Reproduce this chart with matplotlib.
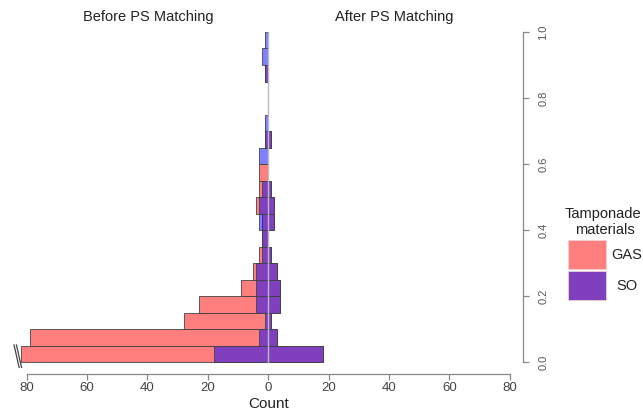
import numpy as np
import matplotlib
matplotlib.use("Agg")
import matplotlib.pyplot as plt
from matplotlib.patches import Rectangle

plt.rcParams['font.family'] = ['Liberation Sans', 'DejaVu Sans']

# -------------------------------
# Data: propensity score histogram counts, bins of 0.05 from 0 to 1
# -------------------------------
bin_edges = np.round(np.arange(0, 1.0001, 0.05), 2)
# before matching (first GAS bin is truncated on the axis, drawn length ~82)
gas_before = np.array([82, 79, 28, 23, 9, 5, 3, 2, 2, 4, 3, 3, 0, 1, 0, 0, 0, 1, 0, 0])
so_before = np.array([18, 3, 1, 4, 4, 4, 2, 2, 3, 3, 2, 0, 3, 1, 1, 0, 0, 1, 2, 1])
# after matching (GAS and SO equal per bin)
gas_after = np.array([18, 3, 1, 4, 4, 3, 1, 0, 2, 2, 1, 0, 0, 1, 0, 0, 0, 0, 0, 0])
so_after = np.array([18, 3, 1, 4, 4, 3, 1, 0, 2, 2, 1, 0, 0, 1, 0, 0, 0, 0, 0, 0])

xticks = [-80, -60, -40, -20, 0, 20, 40, 60, 80]
yticks = [0.0, 0.2, 0.4, 0.6, 0.8, 1.0]
group_labels = ["GAS", "SO"]

gas_col = (1, 0, 0, 0.5)
so_col = (0, 0, 1, 0.5)
edge_col = '#444444'

# -------------------------------
# Figure
# -------------------------------
fig = plt.figure(figsize=(6.43, 4.12), dpi=100)
ax = fig.add_axes([0.0213, 0.0922, 0.7919, 0.8622])

lows = bin_edges[:-1]
width = bin_edges[1] - bin_edges[0]


def draw(counts, sign, color):
    m = counts > 0
    ax.barh(lows[m], sign * counts[m], height=width, align='edge',
            color=color, edgecolor=edge_col, linewidth=0.6)


draw(gas_before, -1, gas_col)
draw(so_before, -1, so_col)
draw(gas_after, 1, gas_col)
draw(so_after, 1, so_col)

# center line
ax.plot([0, 0], [0, 1], color='#bbbbbb', lw=1.0, zorder=5)

# break marks on the truncated GAS bar
x0 = -gas_before[0]
for off in (-2.2, -1.4):
    ax.plot([x0 + off, x0 + off + 1.7], [0.052, -0.016], color='#444444',
            lw=0.9, clip_on=False, zorder=6)

ax.set_xlim(-84.3, 84.3)
ax.set_ylim(-0.036, 1.04)

for s in ['top', 'left']:
    ax.spines[s].set_visible(False)
ax.spines['bottom'].set_bounds(-80, 80)
ax.spines['right'].set_bounds(0, 1)
for s in ['bottom', 'right']:
    ax.spines[s].set_color('#888888')
    ax.spines[s].set_linewidth(0.9)

ax.set_xticks(xticks)
ax.set_xticklabels([str(abs(t)) for t in xticks])
ax.tick_params(axis='x', length=4, width=0.9, color='#888888', labelsize=9.5,
               labelcolor='#444444', pad=2)
ax.yaxis.tick_right()
ax.set_yticks(yticks)
ax.set_yticklabels([f"{t:.1f}" for t in yticks], rotation=90, va='center')
ax.tick_params(axis='y', length=4, width=0.9, color='#888888', labelsize=8,
               labelcolor='#555555', pad=7)

ax.set_xlabel("Count", fontsize=11, color='#222222', labelpad=2)

fig.text(148 / 643, 1 - 17 / 412, "Before PS Matching", ha='center', va='center',
         fontsize=10.5, color='#222222')
fig.text(394 / 643, 1 - 17 / 412, "After PS Matching", ha='center', va='center',
         fontsize=10.5, color='#222222')

# legend
W, H = 643, 412
fig.text(603 / W, 1 - 214 / H, "Tamponade", ha='center', va='center', fontsize=10.5, color='#222222')
fig.text(605 / W, 1 - 230 / H, "materials", ha='center', va='center', fontsize=10.5, color='#222222')
leg_cols = ['#ff7f7f', '#7f3fbf']
for i, (lab, c) in enumerate(zip(group_labels, leg_cols)):
    top = 240 + i * 31
    fig.add_artist(Rectangle((568 / W, 1 - (top + 29) / H), 38 / W, 29 / H,
                             transform=fig.transFigure, facecolor=c,
                             edgecolor='#f0d0d0', lw=0.6))
    fig.text(627 / W, 1 - (top + 15) / H, lab, ha='center', va='center',
             fontsize=10.5, color='#222222')

fig.savefig("out.png", dpi=100)
